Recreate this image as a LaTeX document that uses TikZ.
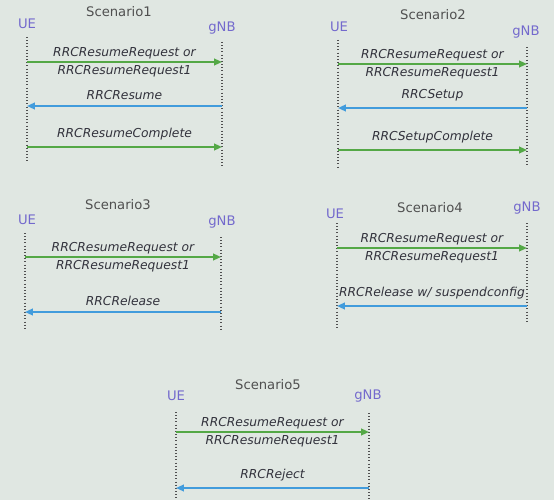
\documentclass[tikz,border=0pt]{standalone}
\usepackage{fontspec}
\setmainfont{DejaVu Sans}
\usetikzlibrary{arrows.meta}

\begin{document}
\begin{tikzpicture}[x=0.02cm,y=-0.02cm,
	title/.style={text=titlegray,font=\fontsize{7.5}{9}\selectfont},
	entity/.style={text=entitypurple,font=\fontsize{7.5}{9}\selectfont},
	msg/.style={text=msggray,font=\fontsize{7}{10.5}\selectfont\itshape,align=center},
	lifeline/.style={draw=linegray,line width=0.7pt,dash pattern=on 0.5pt off 1.3pt},
	fwd/.style={draw=arrowgreen,line width=1pt,-{Triangle[length=4.5pt,width=3.8pt]}},
	back/.style={draw=arrowblue,line width=1pt,-{Triangle[length=4.5pt,width=3.8pt]}}]
	\definecolor{slidebg}{RGB}{224,231,226}
	\definecolor{titlegray}{RGB}{80,80,80}
	\definecolor{entitypurple}{RGB}{115,105,205}
	\definecolor{msggray}{RGB}{50,50,60}
	\definecolor{linegray}{RGB}{80,80,80}
	\definecolor{arrowgreen}{RGB}{84,168,70}
	\definecolor{arrowblue}{RGB}{66,156,220}
	
	\fill[slidebg] (0,0) rectangle (554,500);
	\useasboundingbox (0,0) rectangle (554,500);
	
	\node[title] (title1) at (119,12) {Scenario1};
	\node[entity] (ue1) at (27,24) {UE};
	\node[entity] (gnb1) at (222,28) {gNB};
	\coordinate (ue1top) at (27,37);
	\coordinate (ue1bot) at (27,162);
	\coordinate (gnb1top) at (222,42);
	\coordinate (gnb1bot) at (222,168);
	\draw[lifeline] (ue1top) -- (ue1bot);
	\draw[lifeline] (gnb1top) -- (gnb1bot);
	\coordinate (s1a) at (27,62);
	\coordinate (s1b) at (222,62);
	\coordinate (s1c) at (222,106);
	\coordinate (s1d) at (27,106);
	\coordinate (s1e) at (27,147);
	\coordinate (s1f) at (222,147);
	\draw[fwd] (s1a) -- node[msg] (m11) {RRCResumeRequest or\\RRCResumeRequest1} (s1b);
	\draw[back] (s1c) -- node[msg,above] (m12) {RRCResume} (s1d);
	\draw[fwd] (s1e) -- node[msg,above] (m13) {RRCResumeComplete} (s1f);
	
	\node[title] (title2) at (433,15) {Scenario2};
	\node[entity] (ue2) at (339,27) {UE};
	\node[entity] (gnb2) at (526,32) {gNB};
	\coordinate (ue2top) at (338,40);
	\coordinate (ue2bot) at (338,168);
	\coordinate (gnb2top) at (527,47);
	\coordinate (gnb2bot) at (527,165);
	\draw[lifeline] (ue2top) -- (ue2bot);
	\draw[lifeline] (gnb2top) -- (gnb2bot);
	\coordinate (s2a) at (338,64);
	\coordinate (s2b) at (527,64);
	\coordinate (s2c) at (527,108);
	\coordinate (s2d) at (338,108);
	\coordinate (s2e) at (338,150);
	\coordinate (s2f) at (527,150);
	\draw[fwd] (s2a) -- node[msg] (m21) {RRCResumeRequest or\\RRCResumeRequest1} (s2b);
	\draw[back] (s2c) -- node[msg,above] (m22) {RRCSetup} (s2d);
	\draw[fwd] (s2e) -- node[msg,above] (m23) {RRCSetupComplete} (s2f);
	
	\node[title] (title3) at (118,205) {Scenario3};
	\node[entity] (ue3) at (27,220) {UE};
	\node[entity] (gnb3) at (222,222) {gNB};
	\coordinate (ue3top) at (25,233);
	\coordinate (ue3bot) at (25,330);
	\coordinate (gnb3top) at (221,237);
	\coordinate (gnb3bot) at (221,330);
	\draw[lifeline] (ue3top) -- (ue3bot);
	\draw[lifeline] (gnb3top) -- (gnb3bot);
	\coordinate (s3a) at (25,257);
	\coordinate (s3b) at (221,257);
	\coordinate (s3c) at (221,312);
	\coordinate (s3d) at (25,312);
	\draw[fwd] (s3a) -- node[msg] (m31) {RRCResumeRequest or\\RRCResumeRequest1} (s3b);
	\draw[back] (s3c) -- node[msg,above] (m32) {RRCRelease} (s3d);
	
	\node[title] (title4) at (430,208) {Scenario4};
	\node[entity] (ue4) at (335,214) {UE};
	\node[entity] (gnb4) at (527,208) {gNB};
	\coordinate (ue4top) at (337,223);
	\coordinate (ue4bot) at (337,328);
	\coordinate (gnb4top) at (527,223);
	\coordinate (gnb4bot) at (527,322);
	\draw[lifeline] (ue4top) -- (ue4bot);
	\draw[lifeline] (gnb4top) -- (gnb4bot);
	\coordinate (s4a) at (337,248);
	\coordinate (s4b) at (527,248);
	\coordinate (s4c) at (527,306);
	\coordinate (s4d) at (337,306);
	\draw[fwd] (s4a) -- node[msg] (m41) {RRCResumeRequest or\\RRCResumeRequest1} (s4b);
	\draw[back] (s4c) -- node[msg,above] (m42) {RRCRelease w/ suspendconfig} (s4d);
	
	\node[title] (title5) at (268,385) {Scenario5};
	\node[entity] (ue5) at (176,396) {UE};
	\node[entity] (gnb5) at (368,396) {gNB};
	\coordinate (ue5top) at (176,412);
	\coordinate (ue5bot) at (176,500);
	\coordinate (gnb5top) at (369,413);
	\coordinate (gnb5bot) at (369,500);
	\draw[lifeline] (ue5top) -- (ue5bot);
	\draw[lifeline] (gnb5top) -- (gnb5bot);
	\coordinate (s5a) at (176,432);
	\coordinate (s5b) at (369,432);
	\coordinate (s5c) at (369,488);
	\coordinate (s5d) at (176,488);
	\draw[fwd] (s5a) -- node[msg] (m51) {RRCResumeRequest or\\RRCResumeRequest1} (s5b);
	\draw[back] (s5c) -- node[msg,above] (m52) {RRCReject} (s5d);
	
\end{tikzpicture}
\end{document}
